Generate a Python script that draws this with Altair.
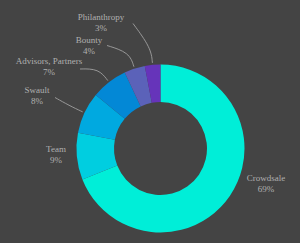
import math
import altair as alt
import pandas as pd

# ---- data ----
categories = ["Crowdsale", "Team", "Swault", "Advisors, Partners", "Bounty", "Philanthropy"]
shares = [69, 9, 8, 7, 4, 3]
colors = ["#00EED8", "#00CEE0", "#00A9E0", "#0388D6", "#5B62B9", "#6634BA"]

# ---- layout (pixels) ----
W, H = 300, 243
CX, CY = 160.5, 148.5
R_OUT, R_IN = 84, 46.5
BG = "#444444"
TEXT = "#b0b0b0"
# label centre x, first line y ; leader start (None = no leader)
label_layout = {
    "Crowdsale": (266, 178, None),
    "Team": (56, 149, None),
    "Swault": (37, 90, (55, 97.5)),
    "Advisors, Partners": (49, 61, (80, 69)),
    "Bounty": (89, 40, (107, 45.5)),
    "Philanthropy": (101, 17, (133, 23.5)),
}
LINE_GAP = 11

total = sum(shares)
arc_df = pd.DataFrame({"cat": categories, "share": shares, "ord": list(range(len(categories)))})

lab_rows, lead_rows = [], []
cum = 0
for c, s in zip(categories, shares):
    mid = (cum + s / 2) / total * 2 * math.pi
    cum += s
    lx, ly, lead = label_layout[c]
    lab_rows.append({"cat": c, "pct": f"{round(s / total * 100)}%", "x": lx, "y": ly, "y2": ly + LINE_GAP})
    if lead is not None:
        pts = [lead,
               (CX + 101 * math.sin(mid), CY - 101 * math.cos(mid)),
               (CX + (R_OUT + 2) * math.sin(mid), CY - (R_OUT + 2) * math.cos(mid))]
        for i, (px, py) in enumerate(pts):
            lead_rows.append({"cat": c, "i": i, "x": px, "y": py})

lab_df = pd.DataFrame(lab_rows)
lead_df = pd.DataFrame(lead_rows)

xs = alt.Scale(domain=[0, W], range=[0, W])
ys = alt.Scale(domain=[0, H], range=[0, H])

donut = alt.Chart(arc_df).mark_arc(radius=R_OUT, radius2=R_IN, stroke=None).encode(
    theta=alt.Theta("share:Q", stack=True),
    order=alt.Order("ord:Q"),
    color=alt.Color("cat:N", scale=alt.Scale(domain=categories, range=colors), legend=None),
    x=alt.value(CX), y=alt.value(CY),
)

leads = alt.Chart(lead_df).mark_line(interpolate="basis", color="#a0a0a0", strokeWidth=0.9).encode(
    x=alt.X("x:Q", scale=xs, axis=None),
    y=alt.Y("y:Q", scale=ys, axis=None),
    detail="cat:N",
    order="i:Q",
)

font = dict(font="Liberation Serif", fontSize=9, color=TEXT, align="center", baseline="middle")
names = alt.Chart(lab_df).mark_text(**font).encode(
    x=alt.X("x:Q", scale=xs, axis=None), y=alt.Y("y:Q", scale=ys, axis=None), text="cat:N")
pcts = alt.Chart(lab_df).mark_text(**font).encode(
    x=alt.X("x:Q", scale=xs, axis=None), y=alt.Y("y2:Q", scale=ys, axis=None), text="pct:N")

chart = alt.layer(leads, donut, names, pcts).properties(
    width=W, height=H, background=BG, padding=0, autosize=alt.AutoSizeParams(type="none")
).configure_view(stroke=None)

chart.save("out.html", embed_options={"renderer": "svg", "actions": False})
